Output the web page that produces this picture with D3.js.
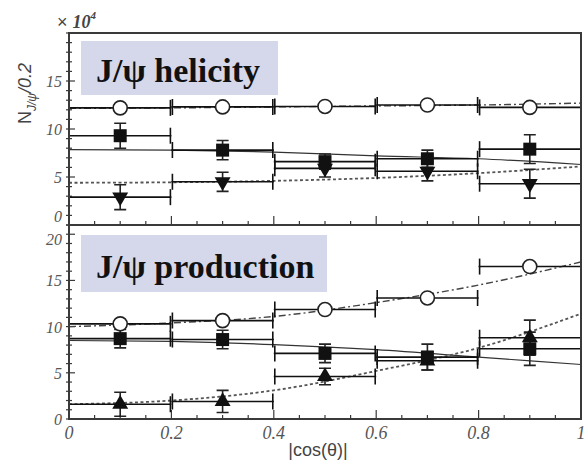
<!DOCTYPE html>
<html>
<head>
<meta charset="utf-8">
<script src="https://cdn.jsdelivr.net/npm/d3@7"></script>
<style>
  body { margin: 0; background: #fff; }
  svg { display: block; }
</style>
</head>
<body>
<div id="chart"></div>
<script>
// bins in |cos(theta)|
var binLo = [0, 0.2, 0.4, 0.6, 0.8],
    binHi = [0.2, 0.4, 0.6, 0.8, 1.0],
    binMid = [0.1, 0.3, 0.5, 0.7, 0.9];

// J/psi helicity panel
var helCircle = [12.2, 12.3, 12.35, 12.5, 12.25];
var helSquare = [9.3, 7.8, 6.6, 6.9, 7.9],
    helSquareErr = [1.3, 1.0, 0.8, 0.9, 1.5];
var helTri = [2.9, 4.5, 5.9, 5.6, 4.3],
    helTriErr = [1.3, 1.0, 0.9, 1.0, 1.5];

// J/psi production panel
var prodCircle = [10.3, 10.65, 11.85, 13.1, 16.5];
var prodSquare = [8.7, 8.6, 7.1, 6.7, 7.6],
    prodSquareErr = [1.0, 1.0, 1.0, 1.4, 1.8];
var prodTri = [1.6, 1.9, 4.6, 6.3, 8.8],
    prodTriErr = [1.3, 1.2, 0.9, 1.0, 1.9];

// fitted curves, read at these points
var fitX = [0, 0.2, 0.4, 0.6, 0.8, 1.0];
var helCircleFit = [12.15, 12.2, 12.3, 12.4, 12.5, 12.7],
    helSquareFit = [7.85, 7.8, 7.6, 7.2, 6.9, 6.3],
    helTriFit = [4.4, 4.45, 4.6, 4.9, 5.4, 6.1];
var prodCircleFit = [10.0, 10.4, 11.1, 12.6, 14.5, 17.0],
    prodSquareFit = [8.5, 8.4, 8.05, 7.5, 6.7, 5.9],
    prodTriFit = [1.6, 2.0, 3.1, 5.2, 7.7, 11.4];

var xTicks = [0, 0.2, 0.4, 0.6, 0.8, 1],
    xTickLabels = ['0', '0.2', '0.4', '0.6', '0.8', '1'];
var topTicks = [0, 5, 10, 15],
    botTicks = [0, 5, 10, 15, 20];

var width = 586, height = 462;
var axisColor = '#3a3a3a', labelColor = '#555';

var svg = d3.select('#chart').append('svg')
  .attr('width', width)
  .attr('height', height);

var x = d3.scaleLinear().domain([0, 1]).range([69, 581]);
var yTop = d3.scaleLinear().domain([0, 20]).range([225, 33]);
var yBot = d3.scaleLinear().domain([0, 21]).range([419, 225]);

function drawPanel(y, yMax, ticks, labelShift, title, boxW, circles, squares, squareErr, tris, triErr, triDown, fits) {
  var g = svg.append('g');
  var y0 = y(0), y1 = y(yMax);

  // title box
  g.append('rect')
    .attr('x', 81).attr('y', title.boxY)
    .attr('width', boxW).attr('height', title.boxH)
    .attr('fill', '#d5d8ea');
  g.append('text')
    .attr('x', 96).attr('y', title.base)
    .attr('font-family', '"Liberation Serif", "DejaVu Serif", serif')
    .attr('font-weight', 'bold')
    .attr('font-size', 34)
    .attr('fill', '#111')
    .text(title.text);

  // x ticks (inward)
  var minorX = d3.range(0, 1.0001, 0.05);
  g.selectAll('.xt').data(minorX).enter().append('line')
    .attr('x1', d => x(d)).attr('x2', d => x(d))
    .attr('y1', y0)
    .attr('y2', d => {
      var r = Math.round(d * 20);
      return y0 - (r % 4 === 0 ? 9 : 4);
    })
    .attr('stroke', axisColor).attr('stroke-width', 1.2);

  // y ticks
  g.selectAll('.yt').data(d3.range(0, yMax + 0.001, 1)).enter().append('line')
    .attr('x1', x(0) - 3).attr('x2', d => x(0) + (d % 5 === 0 ? 6 : 3))
    .attr('y1', d => y(d)).attr('y2', d => y(d))
    .attr('stroke', axisColor).attr('stroke-width', 1.2);

  g.selectAll('.yl').data(ticks).enter().append('text')
    .attr('x', 62).attr('y', d => y(d) + 6 + (labelShift[d] || 0))
    .attr('text-anchor', 'end')
    .attr('font-family', '"Liberation Serif", serif')
    .attr('font-style', 'italic')
    .attr('font-size', 16)
    .attr('fill', labelColor)
    .text(d => d);

  // fits
  var styles = [
    {data: fits[0], dash: '7,3,2,3', w: 1.4, c: '#444'},
    {data: fits[1], dash: null, w: 1.2, c: '#333'},
    {data: fits[2], dash: '3,2.5', w: 1.8, c: '#555'}
  ];
  styles.forEach(function (s) {
    var line = d3.line()
      .x((d, i) => x(fitX[i]))
      .y(d => y(d))
      .curve(d3.curveMonotoneX);
    g.append('path')
      .attr('d', line(s.data))
      .attr('fill', 'none')
      .attr('stroke', s.c)
      .attr('stroke-width', s.w)
      .attr('stroke-dasharray', s.dash);
  });

  // bin bars with end caps
  [circles, squares, tris].forEach(function (vals) {
    g.selectAll(null).data(vals).enter().append('line')
      .attr('x1', (d, i) => x(binLo[i])).attr('x2', (d, i) => x(binHi[i]))
      .attr('y1', d => y(d)).attr('y2', d => y(d))
      .attr('stroke', '#111').attr('stroke-width', 1.6);
    g.selectAll(null).data(vals).enter().append('path')
      .attr('d', function (d, i) {
        var p = '';
        if (binLo[i] > 0) p += 'M' + (x(binLo[i]) + 1) + ',' + (y(d) - 8) + 'V' + (y(d) + 8);
        if (binHi[i] < 1) p += 'M' + (x(binHi[i]) - 1) + ',' + (y(d) - 8) + 'V' + (y(d) + 8);
        return p;
      })
      .attr('stroke', '#111').attr('stroke-width', 1.6);
  });

  // error bars
  function errs(vals, e) {
    g.selectAll(null).data(vals).enter().append('path')
      .attr('d', function (d, i) {
        var cx = x(binMid[i]), t = y(d + e[i]), b = y(d - e[i]);
        return 'M' + cx + ',' + t + 'V' + b +
          'M' + (cx - 6) + ',' + t + 'H' + (cx + 6) +
          'M' + (cx - 6) + ',' + b + 'H' + (cx + 6);
      })
      .attr('fill', 'none')
      .attr('stroke', '#222').attr('stroke-width', 1.6);
  }
  errs(squares, squareErr);
  errs(tris, triErr);

  // markers
  g.selectAll(null).data(squares).enter().append('rect')
    .attr('x', (d, i) => x(binMid[i]) - 6.5)
    .attr('y', d => y(d) - 6.5)
    .attr('width', 13).attr('height', 13)
    .attr('fill', '#111');

  var triSym = d3.symbol().type(d3.symbolTriangle).size(110);
  g.selectAll(null).data(tris).enter().append('path')
    .attr('d', triSym)
    .attr('transform', (d, i) => 'translate(' + x(binMid[i]) + ',' + y(d) + ')' + (triDown ? ' rotate(180)' : ''))
    .attr('fill', '#111');

  g.selectAll(null).data(circles).enter().append('circle')
    .attr('cx', (d, i) => x(binMid[i]))
    .attr('cy', d => y(d))
    .attr('r', 7)
    .attr('fill', '#fff')
    .attr('stroke', '#222').attr('stroke-width', 1.6);

  // frame
  g.append('rect')
    .attr('x', x(0)).attr('y', y1)
    .attr('width', x(1) - x(0)).attr('height', y0 - y1)
    .attr('fill', 'none')
    .attr('stroke', axisColor).attr('stroke-width', 2);
}

drawPanel(yTop, 20, topTicks, {0: -9},
  {text: 'J/\u03c8 helicity', boxY: 41, boxH: 54, base: 82}, 197,
  helCircle, helSquare, helSquareErr, helTri, helTriErr, true,
  [helCircleFit, helSquareFit, helTriFit]);

drawPanel(yBot, 21, botTicks, {20: 5},
  {text: 'J/\u03c8 production', boxY: 235, boxH: 57, base: 278}, 246,
  prodCircle, prodSquare, prodSquareErr, prodTri, prodTriErr, false,
  [prodCircleFit, prodSquareFit, prodTriFit]);

// x tick labels
svg.selectAll('.xl').data(xTicks).enter().append('text')
  .attr('x', d => x(d)).attr('y', 439)
  .attr('text-anchor', 'middle')
  .attr('font-family', '"Liberation Serif", serif')
  .attr('font-style', 'italic')
  .attr('font-size', 18)
  .attr('fill', labelColor)
  .text((d, i) => xTickLabels[i]);

// x axis title
svg.append('text')
  .attr('x', 318).attr('y', 456)
  .attr('text-anchor', 'middle')
  .attr('font-family', '"Liberation Sans", Arial, sans-serif')
  .attr('font-size', 18)
  .attr('fill', '#444')
  .text('|cos(\u03b8)|');

// y axis title
var yt = svg.append('text')
  .attr('transform', 'translate(31,124) rotate(-90)')
  .attr('font-family', '"Liberation Sans", Arial, sans-serif')
  .attr('font-size', 18)
  .attr('fill', '#444');
yt.append('tspan').text('N');
yt.append('tspan').attr('dy', 5).attr('font-size', 12).attr('font-style', 'italic').text('J/\u03c8');
yt.append('tspan').attr('dy', -5).attr('font-style', 'italic').text('/0.2');

// multiplier
var m = svg.append('text')
  .attr('x', 57).attr('y', 28)
  .attr('fill', '#444');
m.append('tspan')
  .attr('font-family', '"Liberation Sans", sans-serif')
  .attr('font-size', 18)
  .text('\u00d7 ');
m.append('tspan')
  .attr('font-family', '"Liberation Serif", serif')
  .attr('font-style', 'italic').attr('font-weight', 'bold')
  .attr('font-size', 18)
  .text('10');
m.append('tspan')
  .attr('dy', -9)
  .attr('font-family', '"Liberation Serif", serif')
  .attr('font-style', 'italic').attr('font-weight', 'bold')
  .attr('font-size', 11)
  .text('4');
</script>
</body>
</html>
